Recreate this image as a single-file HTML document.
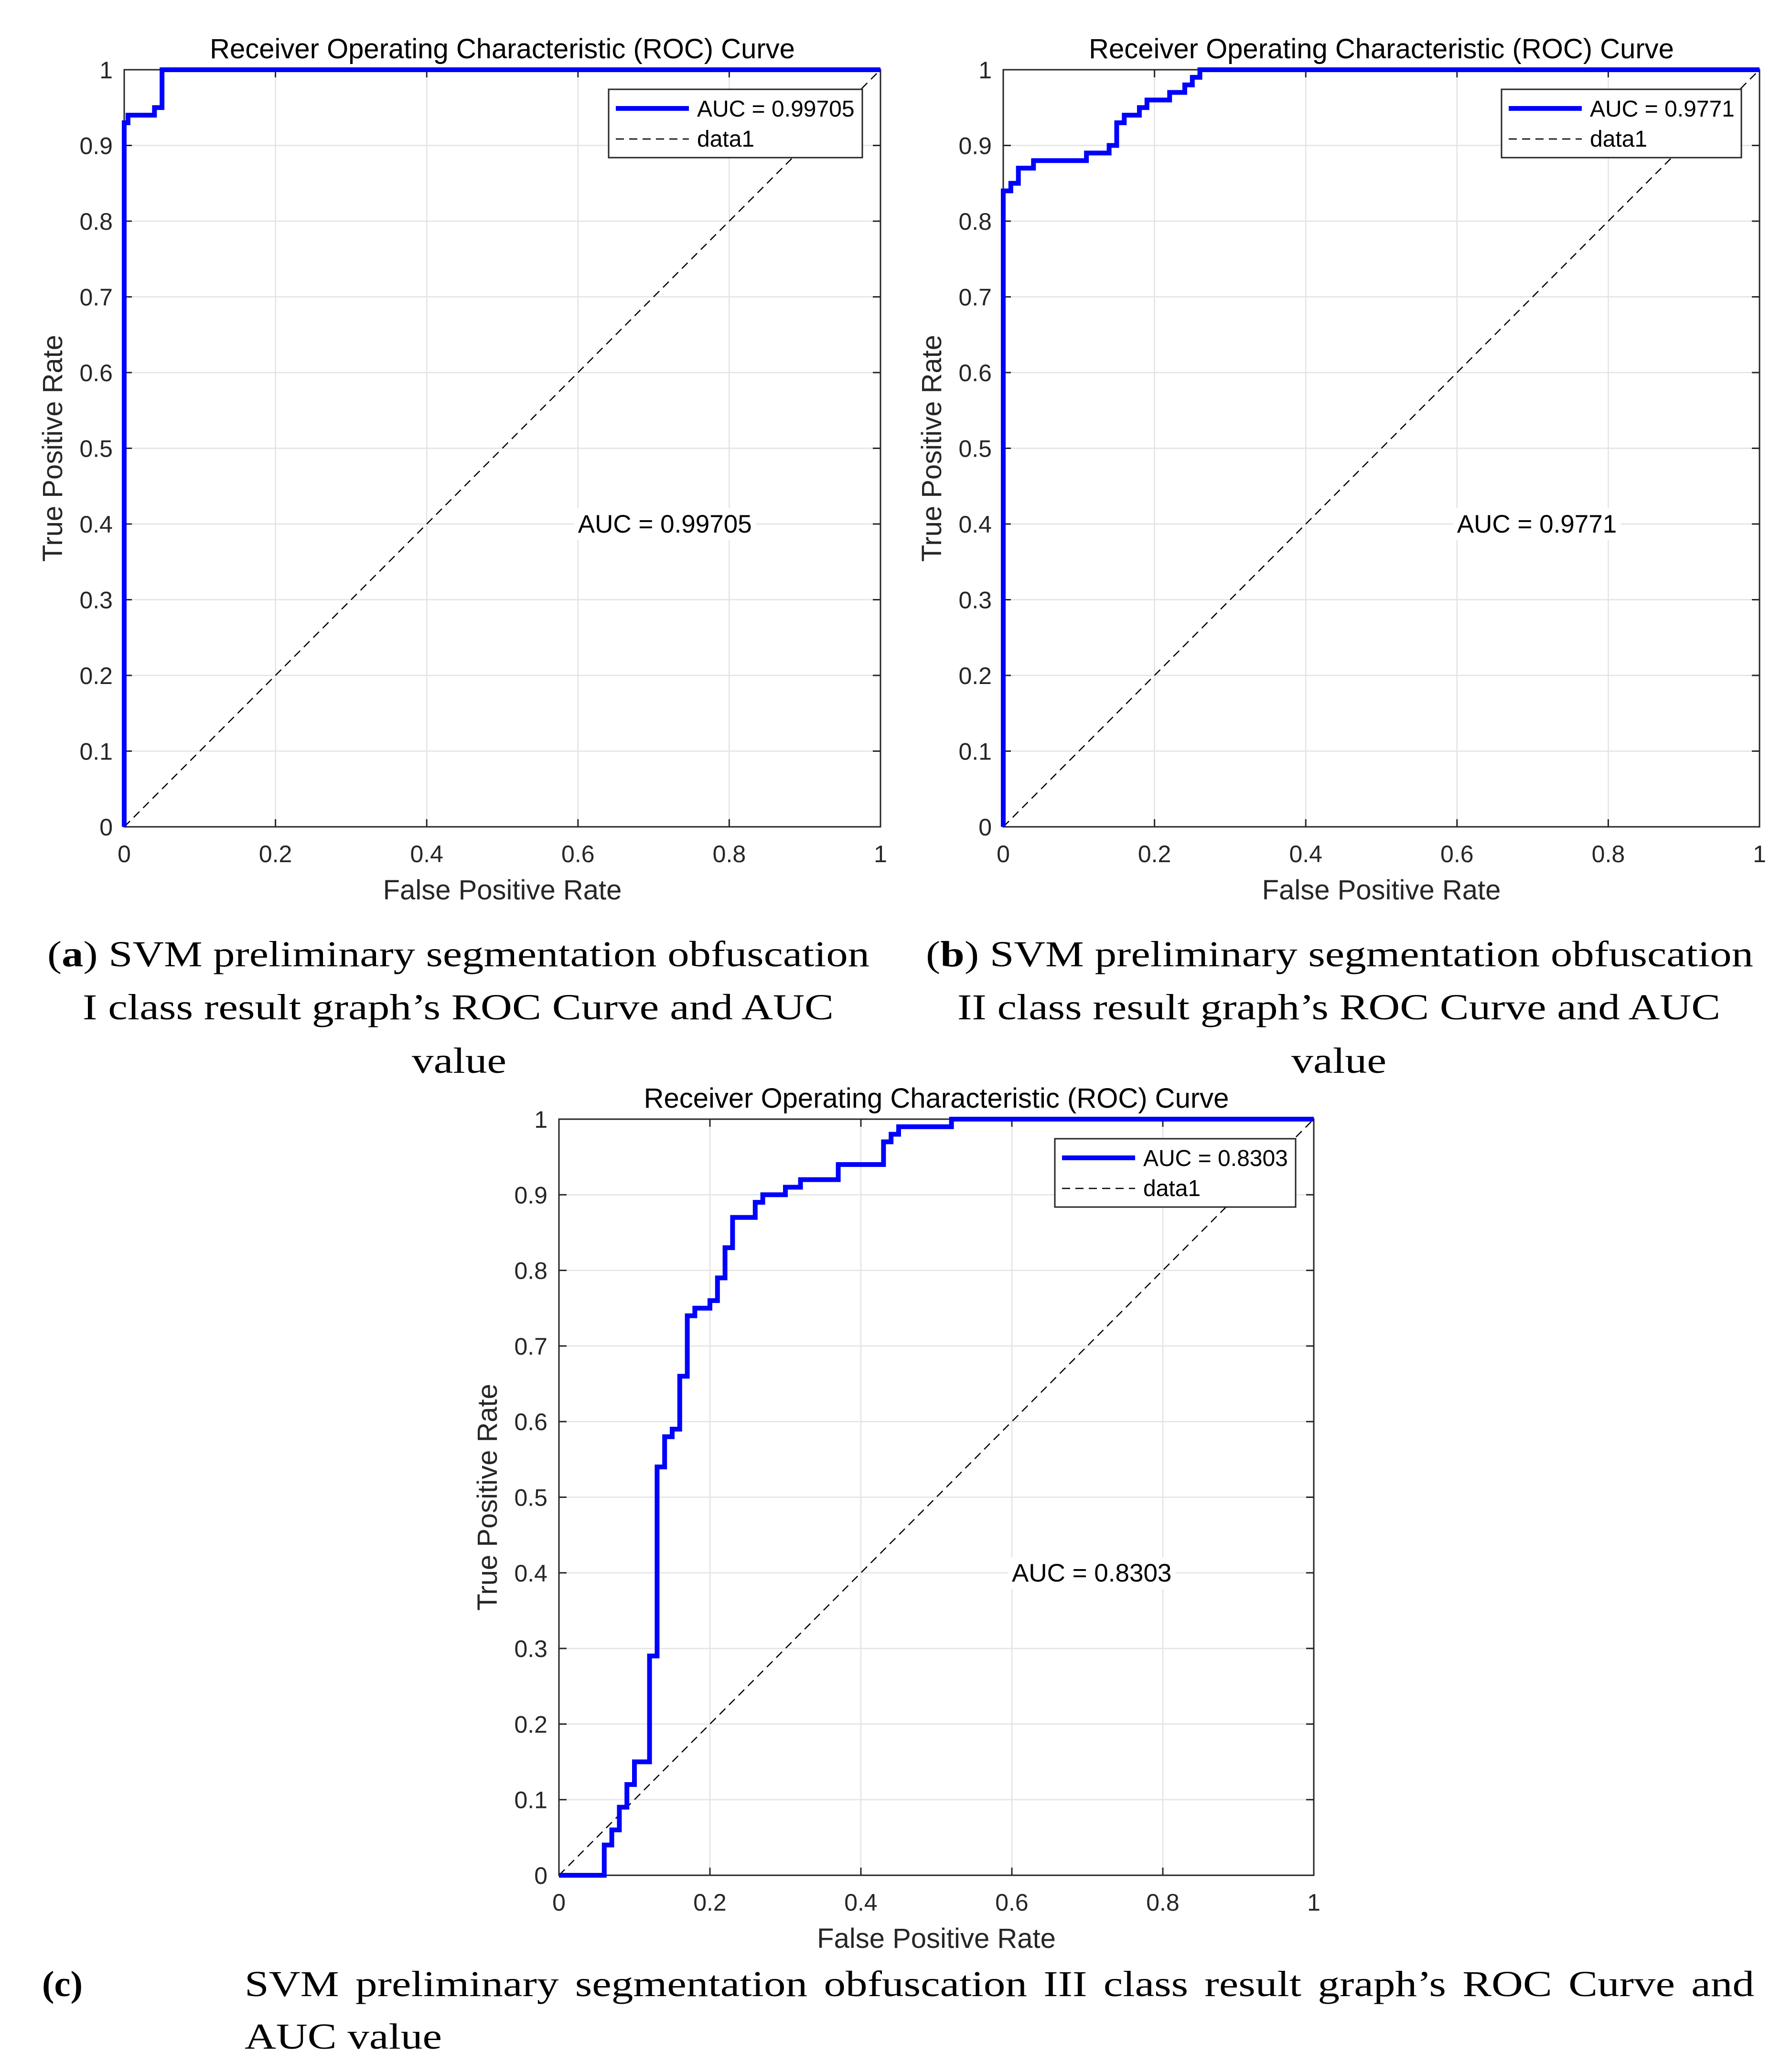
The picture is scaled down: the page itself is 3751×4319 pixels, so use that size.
<!DOCTYPE html>
<html><head><meta charset="utf-8"><style>
html,body{margin:0;padding:0;background:#fff;}
svg{display:block;}
</style></head><body>
<svg id="fig" width="3751" height="4319" viewBox="0 0 3751 4319" xmlns="http://www.w3.org/2000/svg">
<rect width="3751" height="4319" fill="#fff"/>
<g id="pa"></g>
<g id="pb"></g>
<g id="pc"></g>
<g font-family="'Liberation Serif', serif" font-size="76" fill="#000">
<text x="99" y="2023" textLength="1721" lengthAdjust="spacingAndGlyphs">(<tspan font-weight="bold">a</tspan>) SVM preliminary segmentation obfuscation</text>
<text x="173" y="2134" textLength="1572" lengthAdjust="spacingAndGlyphs">I class result graph’s ROC Curve and AUC</text>
<text x="862" y="2246" textLength="198" lengthAdjust="spacingAndGlyphs">value</text>
<text x="1938" y="2023" textLength="1732" lengthAdjust="spacingAndGlyphs">(<tspan font-weight="bold">b</tspan>) SVM preliminary segmentation obfuscation</text>
<text x="2004" y="2134" textLength="1597" lengthAdjust="spacingAndGlyphs">II class result graph’s ROC Curve and AUC</text>
<text x="2703" y="2246" textLength="199" lengthAdjust="spacingAndGlyphs">value</text>
<text x="88" y="4179" font-weight="bold" textLength="85" lengthAdjust="spacingAndGlyphs">(c)</text>
<g id="capc"></g>
<text x="512" y="4289" textLength="413" lengthAdjust="spacingAndGlyphs">AUC value</text>
</g>
</svg>
<script>
const ticks = [0,0.1,0.2,0.3,0.4,0.5,0.6,0.7,0.8,0.9,1];
const xTickLabels = ["0","0.2","0.4","0.6","0.8","1"];
const yTickLabels = ["0","0.1","0.2","0.3","0.4","0.5","0.6","0.7","0.8","0.9","1"];
const fprA = [0,0,0.005,0.005,0.04,0.04,0.05,0.05,1];
const tprA = [0,0.93,0.93,0.94,0.94,0.95,0.95,1,1];
const fprB = [0,0,0.01,0.01,0.02,0.02,0.04,0.04,0.11,0.11,0.14,0.14,0.15,0.15,0.16,0.16,0.18,0.18,0.19,0.19,0.22,0.22,0.24,0.24,0.25,0.25,0.26,0.26,1];
const tprB = [0,0.84,0.84,0.85,0.85,0.87,0.87,0.88,0.88,0.89,0.89,0.90,0.90,0.93,0.93,0.94,0.94,0.95,0.95,0.96,0.96,0.97,0.97,0.98,0.98,0.99,0.99,1,1];
const fprC = [0,0.06,0.06,0.07,0.07,0.08,0.08,0.09,0.09,0.10,0.10,0.12,0.12,0.13,0.13,0.14,0.14,0.15,0.15,0.16,0.16,0.17,0.17,0.18,0.18,0.20,0.20,0.21,0.21,0.22,0.22,0.23,0.23,0.26,0.26,0.27,0.27,0.30,0.30,0.32,0.32,0.37,0.37,0.43,0.43,0.44,0.44,0.45,0.45,0.52,0.52,1];
const tprC = [0,0,0.04,0.04,0.06,0.06,0.09,0.09,0.12,0.12,0.15,0.15,0.29,0.29,0.54,0.54,0.58,0.58,0.59,0.59,0.66,0.66,0.74,0.74,0.75,0.75,0.76,0.76,0.79,0.79,0.83,0.83,0.87,0.87,0.89,0.89,0.90,0.90,0.91,0.91,0.92,0.92,0.94,0.94,0.97,0.97,0.98,0.98,0.99,0.99,1,1];
const aucA = "0.99705", aucB = "0.9771", aucC = "0.8303";

const NS = "http://www.w3.org/2000/svg";
const SANS = "'Liberation Sans', sans-serif";
function mk(parent, tag, attrs, txt){
  const e = document.createElementNS(NS, tag);
  for (const k in attrs) e.setAttribute(k, attrs[k]);
  if (txt !== undefined) e.textContent = txt;
  parent.appendChild(e);
  return e;
}
function plot(id, L, T, W, H, fpr, tpr, auc, legW){
  const g = document.getElementById(id);
  const sx = v => L + v*W;
  const sy = v => T + H - v*H;
  ticks.forEach(t=>{
    if (t>0 && t<1 && Math.round(t*10)%2===0){
      const l = mk(g,'line',{x1:sx(t),x2:sx(t),y1:T,y2:T+H,stroke:'#e3e3e3','stroke-width':2.5});
      
      
    }
    if (t>0 && t<1){
      const l = mk(g,'line',{x1:L,x2:L+W,y1:sy(t),y2:sy(t),stroke:'#e3e3e3','stroke-width':2.5});
      
      
    }
  });
  const d = mk(g,'line',{x1:sx(0),y1:sy(0),x2:sx(1),y2:sy(1),stroke:'#000','stroke-width':2.5,'stroke-dasharray':'17 11'});
  
  
  const at = mk(g,'text',{x:sx(0.6),y:sy(0.4)+18,'font-family':SANS,'font-size':53,fill:'#000'},'AUC = '+auc);
  
  
  const bb = at.getBBox();
  const bg = mk(g,'rect',{x:bb.x-8,y:bb.y-4,width:bb.width+16,height:bb.height+8,fill:'#fff'});
  
  
  g.insertBefore(bg, at);
  const box = mk(g,'rect',{x:L,y:T,width:W,height:H,fill:'none',stroke:'#262626','stroke-width':3});
  
  
  ticks.forEach((t,i)=>{
    mk(g,'line',{x1:L,x2:L+16,y1:sy(t),y2:sy(t),stroke:'#262626','stroke-width':3});
    mk(g,'line',{x1:L+W,x2:L+W-16,y1:sy(t),y2:sy(t),stroke:'#262626','stroke-width':3});
    const yl = mk(g,'text',{x:L-24,y:sy(t)+18,'text-anchor':'end','font-family':SANS,'font-size':50,fill:'#262626'},yTickLabels[i]);
    
    
  });
  xTickLabels.forEach(s=>{
    const v = parseFloat(s);
    mk(g,'line',{x1:sx(v),x2:sx(v),y1:T+H,y2:T+H-16,stroke:'#262626','stroke-width':3});
    mk(g,'line',{x1:sx(v),x2:sx(v),y1:T,y2:T+16,stroke:'#262626','stroke-width':3});
    const xl = mk(g,'text',{x:sx(v),y:T+H+74,'text-anchor':'middle','font-family':SANS,'font-size':50,fill:'#262626'},s);
    
    
  });
  const pts = fpr.map((f,i)=>sx(f)+','+sy(tpr[i])).join(' ');
  const c = mk(g,'polyline',{points:pts,fill:'none',stroke:'#0000ff','stroke-width':10,'stroke-linejoin':'miter'});
  
  
  const ti = mk(g,'text',{x:L+W/2,y:T-24,'text-anchor':'middle','font-family':SANS,'font-size':58,fill:'#000'},'Receiver Operating Characteristic (ROC) Curve');
  
  
  const xt = mk(g,'text',{x:L+W/2,y:T+H+152,'text-anchor':'middle','font-family':SANS,'font-size':58,fill:'#262626'},'False Positive Rate');
  
  
  const yx = L-150, yy = T+H/2;
  const yt = mk(g,'text',{x:yx,y:yy+20,'text-anchor':'middle','font-family':SANS,'font-size':58,fill:'#262626',transform:`rotate(-90 ${yx} ${yy})`},'True Positive Rate');
  
  
  const lx = L+W-38-legW, ly = T+41;
  const lg = mk(g,'g',{});
  
  
  mk(lg,'rect',{x:lx,y:ly,width:legW,height:143,fill:'#fff',stroke:'#262626','stroke-width':3});
  const e1 = mk(lg,'line',{x1:lx+15,x2:lx+168,y1:ly+40,y2:ly+40,stroke:'#0000ff','stroke-width':10});
  
  
  mk(lg,'text',{x:lx+185,y:ly+57,'font-family':SANS,'font-size':48,fill:'#000'},'AUC = '+auc);
  const e2 = mk(lg,'line',{x1:lx+15,x2:lx+168,y1:ly+104,y2:ly+104,stroke:'#000','stroke-width':2.5,'stroke-dasharray':'17 11'});
  
  
  mk(lg,'text',{x:lx+185,y:ly+120,'font-family':SANS,'font-size':48,fill:'#000'},'data1');
}
plot('pa',260,146,1583,1585,fprA,tprA,aucA,531);
plot('pb',2100,146,1583,1585,fprB,tprB,aucB,502);
plot('pc',1170,2343,1580,1583,fprC,tprC,aucC,504);

// justified caption line for (c), glyphs widened like the reference serif
(function(){
  const g = document.getElementById('capc');
  const words = "SVM preliminary segmentation obfuscation III class result graph’s ROC Curve and".split(' ');
  const x0 = 512, x1 = 3672, y = 4179, widen = 1.2;
  const els = words.map(w=>{
    const t = mk(g,'text',{x:0,y:y},w);
    
    
    return t;
  });
  const widths = els.map(e=>e.getComputedTextLength()*widen);
  els.forEach((e,i)=>{ e.setAttribute('textLength', widths[i]); e.setAttribute('lengthAdjust','spacingAndGlyphs'); });
  const total = widths.reduce((a,b)=>a+b,0);
  const gap = (x1-x0-total)/(words.length-1);
  let x = x0;
  els.forEach((e,i)=>{ e.setAttribute('x', x); x += widths[i]+gap; });
})();
</script>
</body></html>
